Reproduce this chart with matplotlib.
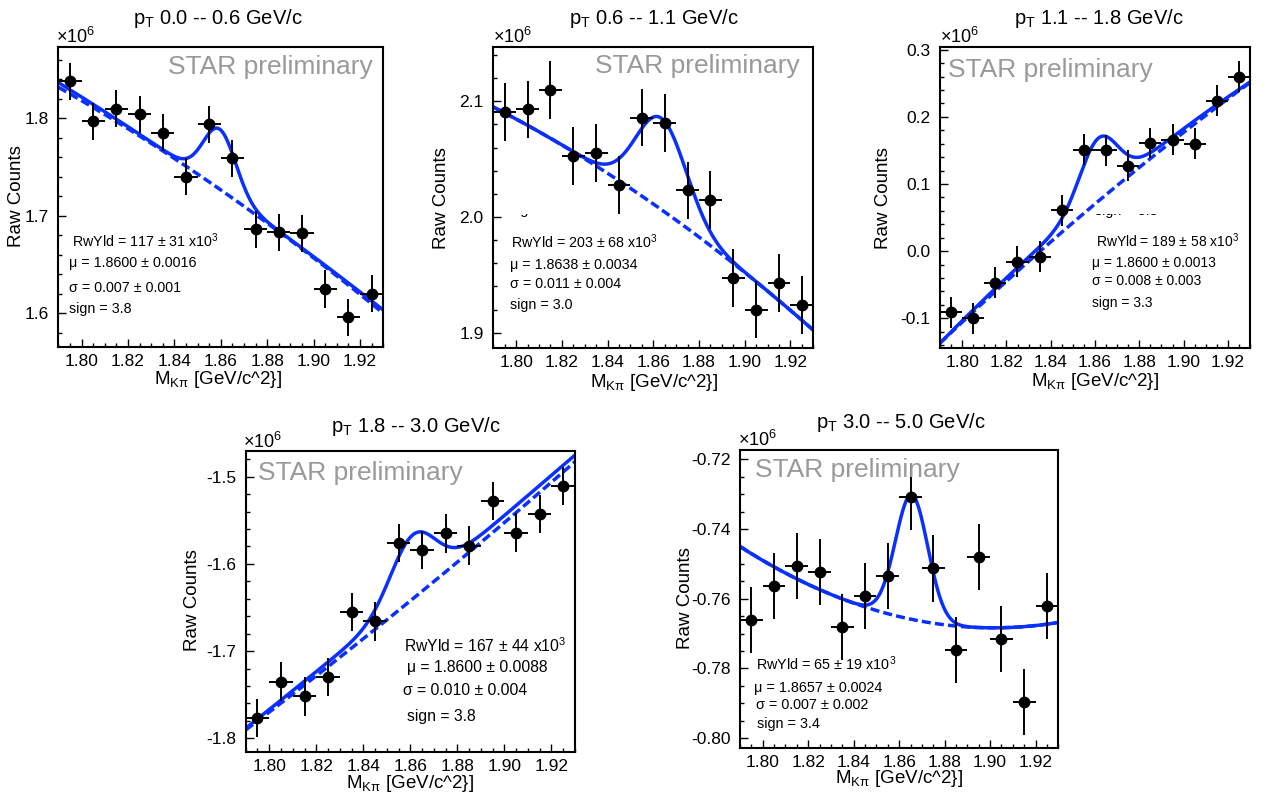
import numpy as np
import matplotlib
matplotlib.use("Agg")
import matplotlib.pyplot as plt
from matplotlib.ticker import MultipleLocator, FormatStrFormatter
from matplotlib.patches import Rectangle

plt.rcParams['font.family'] = ['Liberation Sans', 'DejaVu Sans']
plt.rcParams['mathtext.fontset'] = 'custom'
plt.rcParams['mathtext.rm'] = 'Liberation Sans'
plt.rcParams['mathtext.it'] = 'Liberation Sans'
plt.rcParams['mathtext.bf'] = 'Liberation Sans:bold'
plt.rcParams['mathtext.default'] = 'regular'
plt.rcParams['axes.unicode_minus'] = False

# ---------------- data (values in units of 10^6 counts) ----------------
mass = [1.795, 1.805, 1.815, 1.825, 1.835, 1.845, 1.855,
        1.865, 1.875, 1.885, 1.895, 1.905, 1.915, 1.925]
bin_half = 0.005

titles = ["p$_T$ 0.0 -- 0.6 GeV/c", "p$_T$ 0.6 -- 1.1 GeV/c", "p$_T$ 1.1 -- 1.8 GeV/c",
          "p$_T$ 1.8 -- 3.0 GeV/c", "p$_T$ 3.0 -- 5.0 GeV/c"]

counts_pt1 = [1.838, 1.797, 1.810, 1.804, 1.785, 1.740, 1.794,
              1.759, 1.686, 1.683, 1.682, 1.625, 1.596, 1.620]
counts_pt2 = [2.091, 2.093, 2.110, 2.053, 2.055, 2.028, 2.086,
              2.081, 2.023, 2.015, 1.947, 1.920, 1.943, 1.924]
counts_pt3 = [-0.091, -0.100, -0.047, -0.016, -0.008, 0.061, 0.151,
              0.150, 0.127, 0.161, 0.166, 0.160, 0.224, 0.260]
counts_pt4 = [-1.777, -1.735, -1.752, -1.730, -1.655, -1.666, -1.576,
              -1.584, -1.565, -1.579, -1.528, -1.564, -1.543, -1.511]
counts_pt5 = [-0.7661, -0.7563, -0.7505, -0.7524, -0.7680, -0.7592, -0.7534,
              -0.7307, -0.7513, -0.7747, -0.7481, -0.7715, -0.7897, -0.7621]

errors_pt1 = [0.019] * 14
errors_pt2 = [0.025] * 14
errors_pt3 = [0.023] * 14
errors_pt4 = [0.022] * 14
errors_pt5 = [0.0095] * 14

# fit: background (pol2) given by its values at M = 1.79, 1.86, 1.93 ; gaussian amp, mean, sigma
bg_solid = [[1.8366, 1.727, 1.6034], [2.0951, 2.0113, 1.9022], [-0.137, 0.078, 0.2518],
            [-1.7885, -1.635, -1.4752], [-0.7450, -0.7651, -0.7668]]
bg_dashed = [[1.8318, 1.7265, 1.600], [2.0951, 2.0113, 1.9022], [-0.137, 0.0703, 0.251],
             [-1.7904, -1.6423, -1.4828], [-0.7450, -0.7651, -0.7668]]
gaus_amp = [0.061, 0.079, 0.086, 0.066, 0.0357]
gaus_mean = [1.8595, 1.8635, 1.8615, 1.861, 1.8655]
gaus_sigma = [0.007, 0.011, 0.0085, 0.0095, 0.0071]

rwyld = ["RwYld = 117 $\\pm$ 31 x10$^{3}$", "RwYld = 203 $\\pm$ 68 x10$^{3}$",
         "RwYld = 189 $\\pm$ 58 x10$^{3}$", "RwYld = 167 $\\pm$ 44 x10$^{3}$",
         "RwYld = 65 $\\pm$ 19 x10$^{3}$"]
mu_txt = ["μ = 1.8600 ± 0.0016", "μ = 1.8638 ± 0.0034", "μ = 1.8600 ± 0.0013",
          "μ = 1.8600 ± 0.0088", "μ = 1.8657 ± 0.0024"]
sig_txt = ["σ = 0.007 ± 0.001", "σ = 0.011 ± 0.004", "σ = 0.008 ± 0.003",
           "σ = 0.010 ± 0.004", "σ = 0.007 ± 0.002"]
sign_txt = ["sign = 3.8", "sign = 3.0", "sign = 3.3", "sign = 3.8", "sign = 3.4"]

ylims = [(1.5655, 1.8731), (1.8865, 2.147), (-0.1447, 0.304), (-1.8153, -1.4702), (-0.8029, -0.7173)]
ymajor = [0.1, 0.1, 0.1, 0.1, 0.02]
yminor = [0.02, 0.02, 0.02, 0.02, 0.005]
yfmt = ['%.1f', '%.1f', '%.1f', '%.1f', '%.2f']

all_counts = [counts_pt1, counts_pt2, counts_pt3, counts_pt4, counts_pt5]
all_errors = [errors_pt1, errors_pt2, errors_pt3, errors_pt4, errors_pt5]

# ---------------- layout (pixels) ----------------
W, H = 1267, 798
fig = plt.figure(figsize=(W / 100, H / 100), dpi=100)

def rect(l, t, r, b):
    return [l / W, 1 - b / H, (r - l) / W, (b - t) / H]

def ftext(x, y, s, **kw):
    return fig.text(x / W, 1 - y / H, s, **kw)

axes_px = [(58.4, 47, 383.3, 347), (493.3, 47, 813.3, 348.3), (940, 47, 1250, 348.3),
           (245.7, 450.7, 575, 751.7), (740, 450, 1058.3, 748.3)]
title_px = [(218, 24), (654, 24), (1099, 24), (416, 431.5), (901, 428)]
ylabel_px = [(17, 196), (442, 198), (883, 198), (193, 600), (686, 598)]
xlabel_px = [(218, 383.5), (654, 387), (1095, 386), (410, 788), (899, 783)]
x106_px = [(56, 43), (493, 43), (940, 43), (243, 448.5), (738, 446.5)]
star_px = [(168.5, 74), (595, 72.7), (948.3, 76.7), (258.3, 480), (755, 477.3)]
ann_px = [[(72.3, 247.3), (69.3, 266.7), (69.3, 291.5), (69.3, 313.3)],
          [(510.7, 248.3), (510, 268.7), (510, 287.7), (510, 309)],
          [(1096, 246.7), (1091.7, 266.7), (1091.7, 285.3), (1092, 307.3)],
          [(404, 652.3), (406.7, 671.7), (403.3, 695), (406.7, 720.7)],
          [(756, 670), (754, 691.7), (756, 709.3), (757.3, 727.7)]]
ann_size = [10.3, 10.3, 10.0, 11.3, 10.4]

blue = '#0a30ff'
x_fit = np.linspace(1.79, 1.93, 500)

def fit_curve(x, bg3, amp, mu, sig):
    t = (x - 1.86) / 0.07
    bg = bg3[1] + t * (bg3[2] - bg3[0]) / 2 + t ** 2 * (bg3[2] + bg3[0] - 2 * bg3[1]) / 2
    return bg + amp * np.exp(-0.5 * ((x - mu) / sig) ** 2)

for i in range(5):
    l, t, r, b = axes_px[i]
    ax = fig.add_axes(rect(l, t, r, b))
    ax.plot(x_fit, fit_curve(x_fit, bg_solid[i], gaus_amp[i], gaus_mean[i], gaus_sigma[i]),
            color=blue, lw=2.5, solid_capstyle='butt', zorder=2)
    ax.plot(x_fit, fit_curve(x_fit, bg_dashed[i], 0.0, gaus_mean[i], gaus_sigma[i]),
            color=blue, lw=2.5, dashes=(2.6, 1.2), zorder=2)
    ax.errorbar(mass, all_counts[i], yerr=all_errors[i], xerr=bin_half, fmt='o',
                color='black', ms=7.5, elinewidth=1.4, capsize=0, zorder=3)
    ax.set_xlim(1.79, 1.93)
    ax.set_ylim(*ylims[i])
    ax.xaxis.set_major_locator(MultipleLocator(0.02))
    ax.xaxis.set_minor_locator(MultipleLocator(0.005))
    ax.xaxis.set_major_formatter(FormatStrFormatter('%.2f'))
    ax.yaxis.set_major_locator(MultipleLocator(ymajor[i]))
    ax.yaxis.set_minor_locator(MultipleLocator(yminor[i]))
    ax.yaxis.set_major_formatter(FormatStrFormatter(yfmt[i]))
    ax.tick_params(which='both', direction='in', top=False, right=False, width=1.0, labelsize=12.5)
    ax.tick_params(which='major', length=6)
    ax.tick_params(which='minor', length=3)
    ax.tick_params(axis='x', pad=5)
    ax.tick_params(axis='y', pad=7)
    for s in ax.spines.values():
        s.set_linewidth(1.5)

    ftext(*title_px[i], titles[i], ha='center', va='baseline', fontsize=14.5)
    ftext(*ylabel_px[i], "Raw Counts", ha='center', va='center', rotation=90, fontsize=13.5)
    ftext(*xlabel_px[i], "M$_{K\u03c0}$ [GeV/c^2}]", ha='center', va='baseline', fontsize=13.5)
    ftext(*x106_px[i], "\u00d710$^{6}$", ha='left', va='baseline', fontsize=13)
    ftext(*star_px[i], "STAR preliminary", ha='left', va='baseline', fontsize=19, color='#999999')
    for k, s in enumerate([rwyld[i], mu_txt[i], sig_txt[i], sign_txt[i]]):
        ftext(*ann_px[i][k], s, ha='left', va='baseline', fontsize=ann_size[i])

# clipped text fragments visible in panels 2 and 3
for (x0, y0, x1, y1, tx, ty, s) in [(508, 213.5, 575, 219, 510, 214, "sign = 3.0"),
                                    (1093, 214, 1160, 219.5, 1095, 214.5, "sign = 3.3")]:
    clip = Rectangle((x0 / W, 1 - y1 / H), (x1 - x0) / W, (y1 - y0) / H, transform=fig.transFigure)
    txt = ftext(tx, ty, s, ha='left', va='baseline', fontsize=10.3)
    txt.set_clip_on(True)
    txt.set_clip_path(clip)

fig.savefig("out.png", dpi=100)
